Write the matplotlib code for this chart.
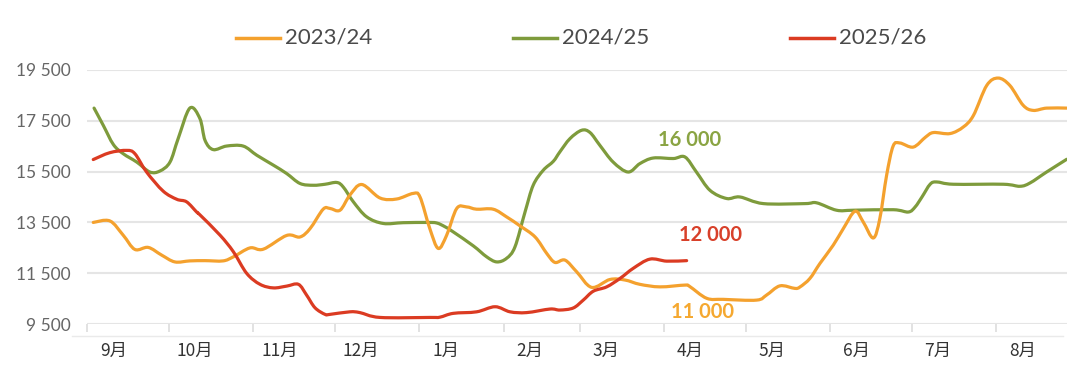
import matplotlib
matplotlib.use("Agg")
import numpy as np
import matplotlib.pyplot as plt
from matplotlib.lines import Line2D
from matplotlib.path import Path
from matplotlib.patches import PathPatch
from matplotlib.ticker import FuncFormatter, FixedLocator

plt.rcParams['font.family'] = ['Lato', 'Noto Sans CJK SC', 'DejaVu Sans']

# x axis: days counted from 1 September
month_names = ['9月', '10月', '11月', '12月', '1月', '2月', '3月', '4月', '5月', '6月', '7月', '8月']
month_days = [30, 31, 30, 31, 31, 28, 31, 30, 31, 30, 31, 31]
y_ticks = [9500, 11500, 13500, 15500, 17500, 19500]

# 2023/24
days_2324 = [2.2, 8.3, 13.2, 17.5, 22.4, 27.3, 32.2, 37.7, 43.3, 49.9, 53.7, 59.8, 64.7,
             73.3, 78.2, 81.9, 86.7, 89.2, 92.9, 96.5, 100.9, 107.6, 113.7, 119.8, 122.3,
             125.9, 129.0, 132.1, 135.8, 139.4, 143.1, 149.2, 154.1, 159.0, 164.6, 168.9,
             171.9, 175.6, 179.9, 185.4, 192.1, 197.6, 203.1, 210.5, 219.7, 221.5, 227.7,
             233.8, 246.0, 249.7, 254.6, 260.1, 262.0, 265.6, 269.3, 274.2, 277.9, 282.2,
             285.2, 288.9, 291.3, 293.8, 296.2, 298.7, 303.6, 308.1, 311.0, 317.1, 322.0,
             325.7, 330.6, 334.8, 339.1, 344.0, 347.7, 352.6, 360.0]
vals_2324 = [13500, 13560, 13000, 12440, 12520, 12220, 11950, 11990, 12000, 11990, 12150,
             12500, 12450, 12990, 12930, 13260, 14020, 14050, 13980, 14570, 14990, 14460,
             14420, 14640, 14500, 13260, 12480, 13000, 14050, 14110, 14020, 14020, 13720,
             13370, 12930, 12280, 11930, 12020, 11560, 10950, 11260, 11240, 11070, 10970,
             11040, 10980, 10520, 10480, 10450, 10650, 11010, 10910, 10970, 11300, 11890,
             12610, 13260, 13940, 13520, 12890, 13650, 15350, 16500, 16620, 16460, 16850,
             17030, 16990, 17250, 17700, 18880, 19170, 18880, 18100, 17900, 17990, 17990]

# 2024/25
days_2425 = [2.5, 5.9, 9.6, 13.2, 18.2, 23.0, 26.7, 30.4, 33.4, 37.7, 41.4, 43.3, 46.3,
             51.2, 57.3, 62.3, 68.4, 73.3, 78.2, 83.1, 87.4, 91.7, 94.1, 97.8, 102.7,
             108.8, 116.1, 124.7, 128.4, 131.5, 134.5, 141.9, 146.8, 150.5, 154.1, 157.2,
             160.9, 163.9, 167.6, 171.3, 173.7, 177.4, 181.7, 184.8, 188.4, 193.3, 198.8,
             203.1, 208.0, 215.4, 219.7, 223.9, 228.9, 235.0, 239.9, 248.5, 263.8, 268.1,
             275.4, 281.6, 296.3, 301.8, 304.3, 306.8, 309.8, 312.2, 318.3, 336.7, 342.8,
             346.5, 352.6, 360.0]
vals_2425 = [17990, 17310, 16560, 16200, 15870, 15480, 15520, 15870, 16790, 17990, 17580,
             16720, 16360, 16500, 16500, 16140, 15750, 15420, 15030, 14960, 15000, 15070,
             14890, 14310, 13720, 13460, 13490, 13500, 13480, 13330, 13130, 12580, 12150,
             11950, 12090, 12540, 13910, 14960, 15550, 15900, 16270, 16790, 17120, 17030,
             16530, 15870, 15480, 15810, 16030, 16010, 16070, 15480, 14760, 14440, 14500,
             14240, 14240, 14270, 13980, 13980, 14000, 13910, 14110, 14500, 15000, 15090,
             15000, 15000, 14920, 15050, 15480, 15980]

# 2025/26
days_2526 = [2.2, 8.3, 14.5, 17.5, 21.8, 27.9, 32.9, 36.5, 40.2, 41.4, 48.8, 53.7, 58.6,
             63.5, 68.4, 73.3, 77.6, 80.6, 83.7, 87.4, 89.2, 96.5, 100.2, 107.6, 126.0,
             129.6, 134.5, 143.1, 149.9, 155.4, 161.5, 170.1, 173.7, 178.6, 182.3, 186.0,
             190.9, 195.8, 200.7, 206.8, 213.0, 220.3]
vals_2526 = [15970, 16240, 16330, 16200, 15480, 14730, 14410, 14310, 13910, 13800, 13000,
             12350, 11500, 11070, 10930, 11000, 11070, 10650, 10150, 9890, 9890, 9990,
             9960, 9770, 9770, 9780, 9930, 9990, 10190, 9990, 9960, 10100, 10060, 10140,
             10450, 10800, 10970, 11300, 11700, 12060, 11980, 12000]

c_2324 = '#F4A12E'
c_2425 = '#7E9B3C'
c_2526 = '#DB3B22'


def smooth_line(ax, xs, ys, color, z):
    # draw the series as a smooth curve (Catmull-Rom style bezier through the points)
    p = np.column_stack([xs, ys]).astype(float)
    verts = [p[0]]
    codes = [Path.MOVETO]
    n = len(p)
    for i in range(n - 1):
        p0 = p[i - 1] if i > 0 else p[i]
        p3 = p[i + 2] if i + 2 < n else p[i + 1]
        c1 = p[i] + (p[i + 1] - p0) / 6.0
        c2 = p[i + 1] - (p3 - p[i]) / 6.0
        verts += [c1, c2, p[i + 1]]
        codes += [Path.CURVE4] * 3
    patch = PathPatch(Path(verts, codes), fill=False, edgecolor=color, lw=2.3,
                      joinstyle='round', capstyle='round', zorder=z)
    ax.add_patch(patch)


fig = plt.figure(figsize=(10.8, 3.87), dpi=100)
ax = fig.add_axes([0.0808, 0.162, 0.9069, 0.658])

for y in y_ticks:
    ax.axhline(y, color='#E5E5E5', lw=1.5, zorder=0)

smooth_line(ax, days_2425, vals_2425, c_2425, 2)
smooth_line(ax, days_2324, vals_2324, c_2324, 3)
smooth_line(ax, days_2526, vals_2526, c_2526, 4)

ax.set_xlim(0, 360)
ax.set_ylim(9500, 19500)

starts = [sum(month_days[:i]) for i in range(len(month_names))]
ax.xaxis.set_major_locator(FixedLocator(starts))
ax.xaxis.set_minor_locator(FixedLocator([s + 9.7 for s in starts]))
ax.set_xticklabels([], minor=False)
ax.set_xticklabels(month_names, minor=True, fontsize=12.5, color='#333333',
                   family=['Noto Sans CJK SC', 'DejaVu Sans'])
ax.tick_params(axis='x', which='major', length=6, width=1.2, color='#DDDDDD', direction='out')
ax.tick_params(axis='x', which='minor', length=0, pad=13)

ax.set_yticks(y_ticks)
ax.yaxis.set_major_formatter(FuncFormatter(lambda v, p: f'{int(v):,}'.replace(',', ' ')))
ax.tick_params(axis='y', length=0, pad=12, labelsize=12.5, labelcolor='#666666')

for s in ax.spines.values():
    s.set_visible(False)

# bottom border line
fig.add_artist(Line2D([0.0667, 0.984], [0.1318, 0.1318], color='#EAEAEA', lw=1))

ax.text(221.5, 16725, '16 000', color='#8AA443', fontsize=14.5, fontweight='bold',
        ha='center', va='center')
ax.text(228.9, 13000, '12 000', color='#D8402A', fontsize=14.5, fontweight='bold',
        ha='center', va='center')
ax.text(226.0, 9994, '11 000', color='#F5A830', fontsize=14.5, fontweight='bold',
        ha='center', va='center')

# legend drawn by hand across the top
legend_items = [('2023/24', c_2324, 236), ('2024/25', c_2425, 513), ('2025/26', c_2526, 790)]
for label, col, px in legend_items:
    y = 1 - 38 / 387
    fig.add_artist(Line2D([px / 1080, (px + 44) / 1080], [y, y], color=col, lw=2.5))
    fig.text((px + 49) / 1080, y, label, color='#4A4A4A', fontsize=16, fontweight='normal',
             ha='left', va='center')

fig.savefig('out.png', dpi=100, facecolor='white')
